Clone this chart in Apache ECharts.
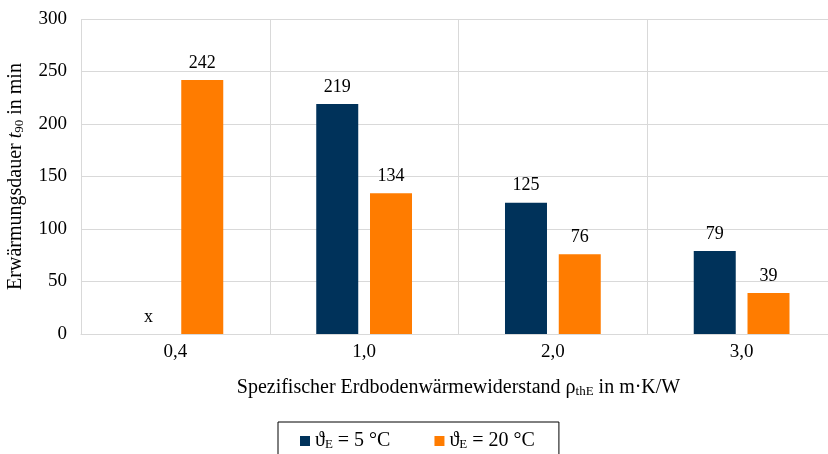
<!DOCTYPE html>
<html>
<head>
<meta charset="utf-8">
<script src="https://cdn.jsdelivr.net/npm/echarts@6/dist/echarts.min.js"></script>
<style>
  html, body { margin: 0; padding: 0; background: #fff; }
  #chart { width: 828px; height: 454px; }
</style>
</head>
<body>
<div id="chart"></div>
<script>
// Soil thermal resistance categories (m·K/W)
const categories = ['0,4', '1,0', '2,0', '3,0'];
// Heating time t90 in min for soil temperature 5 °C (no value at 0,4 -> shown as "x")
const series5C = [0, 219, 125, 79];
// Heating time t90 in min for soil temperature 20 °C
const series20C = [242, 134, 76, 39];
// Entries without a measured value
const missing5C = [true, false, false, false];

const FONT = '"Liberation Serif", "Times New Roman", serif';
const subStyle = { fontFamily: FONT, fontSize: 13, color: '#000', verticalAlign: 'bottom', padding: [8, 0, 0, 0] };

const chart = echarts.init(document.getElementById('chart'), null, { renderer: 'canvas' });

const labelCommon = {
  show: true,
  position: 'top',
  distance: 8,
  fontFamily: FONT,
  fontSize: 18,
  color: '#000'
};

chart.setOption({
  animation: false,
  textStyle: { fontFamily: FONT },
  grid: { left: 81, right: -8, top: 19, bottom: 120, containLabel: false, outerBoundsMode: 'none' },
  legend: {
    left: 278,
    top: 422,
    padding: [9, 24, 12, 22],
    borderColor: '#000',
    borderWidth: 1,
    itemGap: 44,
    itemWidth: 10,
    itemHeight: 10,
    icon: 'rect',
    textStyle: {
      fontFamily: FONT, fontSize: 20, color: '#000',
      rich: { sub: subStyle, n: { fontFamily: FONT, fontSize: 20, color: '#000' } }
    },
    data: ['t5', 't20'],
    formatter: function (name) {
      return name === 't5' ? '{n|ϑ}{sub|E}{n| = 5 °C}' : '{n|ϑ}{sub|E}{n| = 20 °C}';
    }
  },
  xAxis: {
    type: 'category',
    data: categories,
    axisLine: { show: true, lineStyle: { color: '#d9d9d9', width: 1 } },
    axisTick: { show: false },
    splitLine: { show: true, lineStyle: { color: '#d9d9d9', width: 1 } },
    axisLabel: { fontFamily: FONT, fontSize: 19, color: '#000', margin: 9 },
    name: '{n|Spezifischer Erdbodenwärmewiderstand ρ}{sub|thE}{n| in m·K/W}',
    nameLocation: 'middle',
    nameGap: 43,
    nameTextStyle: {
      fontFamily: FONT, fontSize: 20, color: '#000',
      rich: { n: { fontFamily: FONT, fontSize: 20, color: '#000' }, sub: subStyle }
    }
  },
  yAxis: {
    type: 'value',
    min: 0,
    max: 300,
    interval: 50,
    axisLine: { show: false },
    axisTick: { show: false },
    splitLine: { show: true, lineStyle: { color: '#d9d9d9', width: 1 } },
    axisLabel: { fontFamily: FONT, fontSize: 19, color: '#000', margin: 14 },
    name: '{n|Erwärmungsdauer }{i|t}{sub|90}{n| in min}',
    nameLocation: 'middle',
    nameGap: 55,
    nameTextStyle: {
      fontFamily: FONT, fontSize: 20, color: '#000',
      rich: {
        n: { fontFamily: FONT, fontSize: 20, color: '#000' },
        i: { fontFamily: FONT, fontSize: 20, color: '#000', fontStyle: 'italic' },
        sub: subStyle
      }
    }
  },
  series: [
    {
      name: 't5',
      type: 'bar',
      barWidth: 42,
      barGap: '28%',
      itemStyle: { color: '#00325a' },
      label: Object.assign({}, labelCommon, {
        formatter: function (p) { return missing5C[p.dataIndex] ? 'x' : String(p.value); }
      }),
      data: series5C
    },
    {
      name: 't20',
      type: 'bar',
      barWidth: 42,
      itemStyle: { color: '#ff7c00' },
      label: labelCommon,
      data: series20C
    }
  ]
});
</script>
</body>
</html>
